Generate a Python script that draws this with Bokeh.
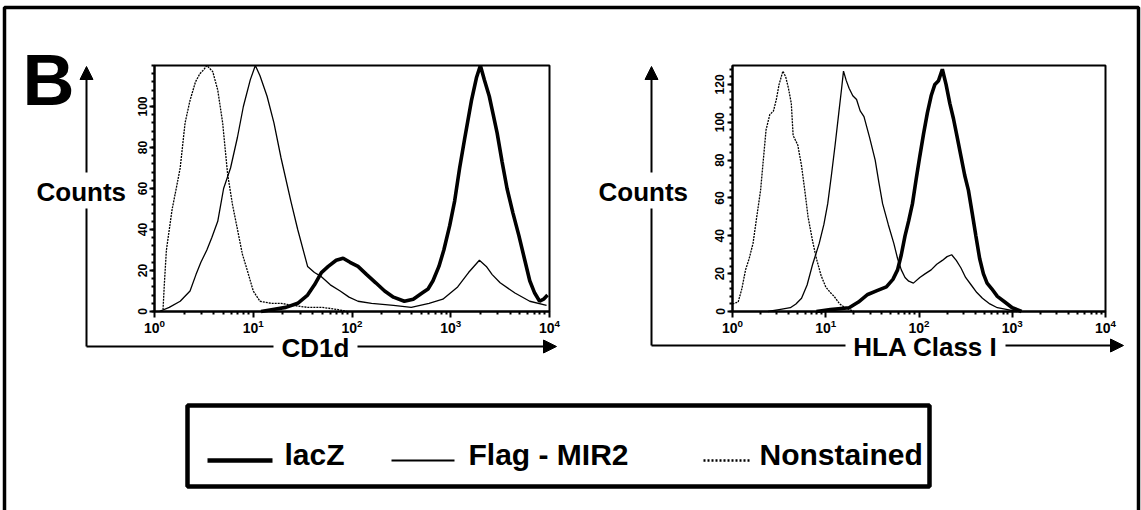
from bokeh.embed import file_html
from bokeh.models import (Arrow, FixedTicker, Label, LinearAxis, LinearScale,
                          LogAxis, LogScale, NormalHead, Range1d)
from bokeh.plotting import figure
from bokeh.resources import INLINE

# ---------------------------------------------------------------------------
# Flow cytometry histograms (fluorescence intensity vs. counts)
# ---------------------------------------------------------------------------
decade_ticks = [1, 10, 100, 1000, 10000]

# CD1d panel
cd1d_lacz_x = [12.0, 15.8, 21.4, 28.2, 35.5, 41.7, 49.0, 57.5, 69.2, 81.3, 95.5, 115, 141, 174,
               214, 263, 339, 417, 513, 589, 661, 759, 851, 977, 1096, 1230, 1380, 1622, 1820,
               1995, 2188, 2455, 2692, 2951, 3311, 3715, 4266, 4898, 5623, 6310, 7079, 7943,
               8710, 9550]
cd1d_lacz_counts = [0, 1, 2, 4, 8, 13, 19, 22, 25, 26, 24, 22, 18, 14,
                    10, 7, 5, 6, 9, 11, 15, 22, 30, 42, 54, 70, 84, 103, 114,
                    120, 113, 105, 96, 87, 73, 60, 48, 37, 25, 15, 9, 5,
                    6, 8]

cd1d_flag_x = [1.12, 1.41, 1.82, 2.29, 2.63, 2.95, 3.39, 3.80, 4.37, 5.01, 5.89, 6.92, 7.94,
               9.33, 10.5, 11.7, 13.8, 16.2, 19.1, 24.0, 28.2, 35.5, 41.7, 49.0, 60.3, 75.9,
               93.3, 115, 158, 263, 398, 603, 832, 1175, 1514, 1950, 2291, 2630, 3162, 4467,
               6310, 9333]
cd1d_flag_counts = [0, 2, 5, 10, 18, 24, 30, 36, 44, 60, 70, 85, 100,
                    113, 120, 115, 105, 92, 75, 54, 40, 22, 19, 17, 13, 10,
                    7, 5, 4, 3, 2, 4, 6, 12, 19, 25, 22, 18, 14, 9,
                    5, 3]

cd1d_unst_x = [1.15, 1.22, 1.26, 1.32, 1.51, 1.66, 1.82, 2.04, 2.29, 2.60, 2.88, 3.16, 3.39,
               3.89, 4.37, 4.90, 5.50, 6.17, 6.92, 7.76, 8.71, 10.0, 11.7, 15.1, 19.1, 25.1,
               35.5, 50.1, 70.8, 89.1]
cd1d_unst_counts = [0, 1, 14, 30, 50, 60, 70, 92, 103, 112, 116, 118, 120,
                    117, 108, 92, 67, 52, 40, 28, 20, 10, 5, 4, 4, 3,
                    2, 2, 1, 0]

# HLA class I panel
hla_lacz_x = [7.94, 11.2, 17.8, 22.4, 28.2, 35.5, 44.7, 52.5, 58.9, 64.6, 70.8, 77.6, 85.1,
              93.3, 102, 112, 123, 135, 148, 162, 178, 195, 214, 234, 257, 282, 309, 339,
              372, 407, 447, 490, 537, 603, 692, 832, 1000, 1259]
hla_lacz_counts = [0, 1, 2, 5, 9, 11, 13, 17, 22, 30, 40, 48, 57,
                   70, 82, 94, 105, 114, 120, 122, 128, 120, 110, 102, 92, 82, 72, 64,
                   52, 40, 28, 20, 15, 12, 8, 5, 2, 0]

hla_flag_x = [2.40, 3.16, 4.17, 4.79, 5.50, 6.31, 7.24, 8.51, 9.55, 10.5, 11.5, 12.6, 13.8,
              14.8, 15.5, 16.6, 17.8, 19.5, 21.4, 23.4, 25.7, 29.5, 33.9, 37.2, 40.7, 46.8,
              53.7, 58.9, 64.6, 70.8, 77.6, 87.1, 102, 117, 135, 155, 178, 200, 224, 251,
              282, 316, 363, 417, 479, 575, 692, 891, 1122]
hla_flag_counts = [0, 1, 2, 4, 7, 14, 25, 36, 46, 57, 72, 88, 105,
                   118, 127, 122, 118, 114, 112, 106, 103, 92, 80, 68, 57, 46,
                   36, 28, 22, 18, 16, 15, 18, 20, 22, 25, 27, 29, 30, 27,
                   23, 18, 14, 10, 7, 4, 2, 1, 0]

hla_unst_x = [1.0, 1.15, 1.26, 1.38, 1.51, 1.66, 1.82, 2.0, 2.14, 2.29, 2.51, 2.75, 2.95,
              3.16, 3.47, 3.72, 3.98, 4.27, 4.47, 5.01, 5.50, 6.03, 6.46, 7.24, 7.94, 8.91,
              10.0, 11.2, 12.3, 14.1, 16.2, 20.0]
hla_unst_counts = [4, 5, 12, 22, 28, 36, 50, 64, 80, 96, 104, 106, 112,
                   120, 127, 124, 118, 110, 93, 88, 77, 62, 50, 37, 28, 19,
                   13, 10, 8, 4, 2, 0]

cd1d_y_ticks = [0, 20, 40, 60, 80, 100]
hla_y_ticks = [0, 20, 40, 60, 80, 100, 120]

legend_labels = ["lacZ", "Flag - MIR2", "Nonstained"]

# ---------------------------------------------------------------------------
W, H = 1141, 510
FONT = "Liberation Sans"

p = figure(width=W, height=H, x_range=Range1d(0, W), y_range=Range1d(H, 0),
           x_axis_type=None, y_axis_type=None, output_backend="svg",
           toolbar_location=None, min_border=0)
p.outline_line_color = None
p.background_fill_color = "white"
p.border_fill_color = "white"

minor_x = [m * d for d in (1, 10, 100, 1000) for m in range(2, 10)]

panels = [
    dict(name="cd1d", box=(154, 65, 549, 311), ymax=120, yticks=cd1d_y_ticks,
         series=[(cd1d_unst_x, cd1d_unst_counts, "unst"),
                 (cd1d_flag_x, cd1d_flag_counts, "flag"),
                 (cd1d_lacz_x, cd1d_lacz_counts, "lacz")]),
    dict(name="hla", box=(732, 65, 1105, 311), ymax=130, yticks=hla_y_ticks,
         series=[(hla_unst_x, hla_unst_counts, "unst"),
                 (hla_flag_x, hla_flag_counts, "flag"),
                 (hla_lacz_x, hla_lacz_counts, "lacz")]),
]

styles = {
    "lacz": dict(line_width=3.6),
    "flag": dict(line_width=1.3),
    "unst": dict(line_width=1.3, line_dash="2 1"),
}

xr, yr, xs, ys = {}, {}, {}, {}
for pan in panels:
    x0, y0, x1, y1 = pan["box"]
    ppd = (x1 - x0) / 4.0
    xr[pan["name"] + "_x"] = Range1d(10 ** (-x0 / ppd), 10 ** ((W - x0) / ppd))
    xs[pan["name"] + "_x"] = LogScale()
    ppu = (y1 - y0) / pan["ymax"]
    yr[pan["name"] + "_y"] = Range1d(-(H - y1) / ppu, y1 / ppu)
    ys[pan["name"] + "_y"] = LinearScale()
p.extra_x_ranges = xr
p.extra_x_scales = xs
p.extra_y_ranges = yr
p.extra_y_scales = ys

for pan in panels:
    nx, ny = pan["name"] + "_x", pan["name"] + "_y"
    x0, y0, x1, y1 = pan["box"]

    for xv, cv, kind in pan["series"]:
        p.line(xv, cv, x_range_name=nx, y_range_name=ny, line_color="black",
               **styles[kind])

    # plot frame
    p.quad(left=[1], right=[10000], bottom=[0], top=[pan["ymax"]],
           x_range_name=nx, y_range_name=ny, fill_color=None,
           line_color="black", line_width=2)

    xaxis = LogAxis(x_range_name=nx, fixed_location=y1, bounds=(1, 10000),
                    ticker=FixedTicker(ticks=decade_ticks, minor_ticks=minor_x))
    xaxis.axis_line_width = 2
    xaxis.major_tick_in = 0
    xaxis.major_tick_out = 6
    xaxis.minor_tick_in = 0
    xaxis.minor_tick_out = 3
    xaxis.major_tick_line_width = 2
    xaxis.minor_tick_line_width = 2
    xaxis.major_label_standoff = 1
    xaxis.major_label_text_font = FONT
    xaxis.major_label_text_font_size = "14px"
    xaxis.major_label_text_font_style = "bold"
    xaxis.major_label_text_color = "black"
    p.add_layout(xaxis, "below")

    yminor = [v for v in range(0, pan["ymax"] + 1, 4)]
    yaxis = LinearAxis(y_range_name=ny, fixed_location=x0, bounds=(0, pan["ymax"]),
                       ticker=FixedTicker(ticks=pan["yticks"], minor_ticks=yminor))
    yaxis.axis_line_width = 2
    yaxis.major_tick_in = 0
    yaxis.major_tick_out = 5
    yaxis.minor_tick_in = 0
    yaxis.minor_tick_out = 3
    yaxis.major_tick_line_width = 2
    yaxis.minor_tick_line_width = 2
    yaxis.major_label_standoff = 3
    yaxis.major_label_orientation = "parallel"
    yaxis.major_label_text_font = FONT
    yaxis.major_label_text_font_size = "12px"
    yaxis.major_label_text_font_style = "bold"
    yaxis.major_label_text_color = "black"
    p.add_layout(yaxis, "left")

# outer frame (open at the bottom)
p.line([4, 4, 1138, 1138], [530, 7, 7, 530], line_color="black", line_width=3.5)

# panel letter
p.add_layout(Label(x=22, y=79, text="B", text_font=FONT, text_font_style="bold",
                   text_font_size="72px", text_baseline="alphabetic", text_color="black"))

# axis arrows with their titles
def axis_arrows(vx, hy, top, tip_x, counts_x, counts_gap, title, title_cx, title_w):
    head = dict(size=13, fill_color="black", line_color="black")
    p.add_layout(Arrow(x_start=vx, y_start=counts_gap[0], x_end=vx, y_end=top,
                       end=NormalHead(**head), line_width=2))
    p.segment(x0=[vx], y0=[counts_gap[1]], x1=[vx], y1=[hy], line_color="black",
              line_width=2)
    p.segment(x0=[vx], y0=[hy], x1=[title_cx - title_w / 2], y1=[hy], line_color="black",
              line_width=2)
    p.add_layout(Arrow(x_start=title_cx + title_w / 2, y_start=hy, x_end=tip_x, y_end=hy,
                       end=NormalHead(**head), line_width=2))
    p.add_layout(Label(x=counts_x, y=(counts_gap[0] + counts_gap[1]) / 2 + 1, text="Counts",
                       text_font=FONT, text_font_size="26px", text_font_style="bold",
                       text_baseline="middle", text_color="black"))
    p.add_layout(Label(x=title_cx, y=hy + 1, text=title, text_font=FONT,
                       text_font_size="26px", text_font_style="bold", text_baseline="middle",
                       text_align="center", text_color="black"))

axis_arrows(86, 346, 66, 556, 36, (172, 208), "CD1d", 315, 84)
axis_arrows(651, 345, 66, 1123, 598, (172, 208), "HLA Class I", 925, 160)

# legend box
p.quad(left=[187], right=[929], top=[405], bottom=[486], fill_color=None,
       line_color="black", line_width=4.5)
legend_samples = [
    dict(x=(207, 272), style=dict(line_width=4.5), tx=284),
    dict(x=(391, 454), style=dict(line_width=2), tx=468),
    dict(x=(703, 750), style=dict(line_width=2.5, line_dash="2 2"), tx=759),
]
for lab, s in zip(legend_labels, legend_samples):
    p.segment(x0=[s["x"][0]], y0=[460], x1=[s["x"][1]], y1=[460], line_color="black",
              **s["style"])
    p.add_layout(Label(x=s["tx"], y=454, text=lab, text_font=FONT, text_font_size="30px",
                       text_font_style="bold", text_baseline="middle", text_color="black"))

open("out.html", "w").write(file_html(p, INLINE))
